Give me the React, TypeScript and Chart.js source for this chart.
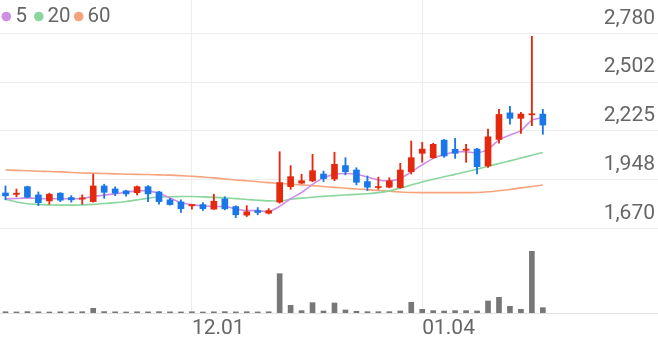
import React, { useEffect, useRef } from 'react';
import { Chart, registerables } from 'chart.js';

Chart.register(...registerables);

// ---- data ----
const dates = [
  '11.08', '11.09', '11.10', '11.13', '11.14', '11.15', '11.16', '11.17', '11.20', '11.21',
  '11.22', '11.23', '11.24', '11.27', '11.28', '11.29', '11.30', '12.01', '12.04', '12.05',
  '12.06', '12.07', '12.08', '12.11', '12.12', '12.13', '12.14', '12.15', '12.18', '12.19',
  '12.20', '12.21', '12.22', '12.26', '12.27', '12.28', '01.02', '01.03', '01.04', '01.05',
  '01.08', '01.09', '01.10', '01.11', '01.12', '01.15', '01.16', '01.17', '01.18', '01.19',
];
const emptySlots = ['', '', '', '', '', '', '', '', '', ''];

const openP = [
  1871, 1863, 1907, 1860, 1826, 1870, 1845, 1836, 1822, 1911,
  1894, 1883, 1873, 1907, 1877, 1832, 1820, 1798, 1805, 1779,
  1837, 1794, 1745, 1771, 1756, 1819, 1907, 1927, 1940, 1979,
  1951, 2027, 2002, 1936, 1902, 1904, 1902, 1992, 2097, 2072,
  2172, 2120, 2114, 2121, 2025, 2176, 2327, 2296, 2316, 2320,
];
const highP = [
  1911, 1894, 1910, 1877, 1870, 1873, 1856, 1860, 1979, 1921,
  1906, 1887, 1911, 1913, 1881, 1841, 1832, 1805, 1816, 1864,
  1850, 1798, 1799, 1788, 1782, 2106, 2027, 1978, 2091, 1996,
  2103, 2072, 2015, 1968, 1961, 1958, 2040, 2167, 2159, 2154,
  2176, 2182, 2148, 2125, 2235, 2347, 2365, 2330, 2763, 2347,
];
const lowP = [
  1832, 1849, 1843, 1799, 1807, 1822, 1819, 1807, 1819, 1841,
  1856, 1853, 1860, 1822, 1807, 1802, 1760, 1779, 1771, 1778,
  1775, 1731, 1737, 1747, 1752, 1813, 1892, 1925, 1936, 1936,
  1941, 1974, 1917, 1885, 1892, 1900, 1898, 1979, 2046, 2068,
  2074, 2068, 2046, 1979, 2017, 2154, 2263, 2210, 2254, 2205,
];
const closeP = [
  1855, 1870, 1847, 1816, 1864, 1830, 1832, 1843, 1911, 1875,
  1870, 1866, 1907, 1866, 1822, 1805, 1782, 1805, 1782, 1824,
  1781, 1747, 1764, 1760, 1771, 1930, 1964, 1941, 1998, 1953,
  2034, 1992, 1932, 1904, 1907, 1940, 2002, 2072, 2121, 2148,
  2082, 2097, 2121, 2021, 2191, 2318, 2296, 2320, 2322, 2258,
];
const volume = [
  38000, 32000, 41000, 35000, 30000, 36000, 33000, 39000, 140000, 42000,
  36000, 31000, 37000, 34000, 40000, 35000, 33000, 38000, 30000, 36000,
  41000, 34000, 39000, 32000, 37000, 1180000, 230000, 70000, 310000, 60000,
  300000, 90000, 50000, 40000, 40000, 40000, 60000, 320000, 110000, 70000,
  60000, 70000, 70000, 60000, 360000, 470000, 200000, 110000, 1850000, 160000,
];
const ma5 = [
  1838, 1840, 1843, 1840, 1838, 1838, 1838, 1840, 1851, 1859,
  1866, 1876, 1883, 1883, 1869, 1842, 1816, 1805, 1798, 1794,
  1794, 1781, 1771, 1771, 1764, 1795, 1838, 1874, 1920, 1957,
  1977, 1982, 1978, 1962, 1945, 1940, 1954, 1991, 2031, 2068,
  2090, 2104, 2106, 2099, 2119, 2173, 2201, 2226, 2286, 2300,
];
const ma20 = [
  1835, 1820, 1810, 1806, 1803, 1802, 1802, 1803, 1806, 1811,
  1816, 1823, 1832, 1842, 1848, 1850, 1851, 1851, 1849, 1846,
  1843, 1839, 1834, 1830, 1826, 1826, 1835, 1842, 1847, 1852,
  1856, 1860, 1863, 1867, 1873, 1883, 1899, 1916, 1934, 1949,
  1964, 1977, 1992, 2007, 2023, 2039, 2054, 2070, 2086, 2102,
];
const ma60 = [
  2002, 2000, 1998, 1995, 1993, 1991, 1988, 1985, 1983, 1982,
  1980, 1978, 1977, 1976, 1974, 1973, 1970, 1966, 1962, 1957,
  1951, 1945, 1941, 1935, 1930, 1926, 1922, 1917, 1913, 1908,
  1903, 1898, 1894, 1890, 1885, 1881, 1877, 1874, 1873, 1873,
  1873, 1873, 1873, 1874, 1878, 1884, 1891, 1900, 1908, 1917,
];
const priceTicks = [1670, 1947.5, 2225, 2502.5, 2780];
const priceTickLabels = ['1,670', '1,948', '2,225', '2,502', '2,780'];
const xTickLabels = ['12.01', '01.04'];
const maLabels = ['5', '20', '60'];

// ---- styles ----
const UP = '#e5290e';
const DOWN = '#1a77ea';
const MA_COLORS = ['#d08de6', '#8ad69d', '#f6a37c'];
const VOL = '#777777';
const GRID = '#ededed';
const TEXT = '#666666';
const FONT = 'Roboto, "Noto Sans", sans-serif';
const LEGEND_DOT_X = [6.3, 38.8, 78.7];
const LEGEND_TEXT_X = [15.5, 47.5, 87.5];

const labels = [...dates, ...emptySlots];
const candleColors = closeP.map((c, i) => (c >= openP[i] ? UP : DOWN));

const overlayPlugin = {
  id: 'overlay',
  afterDraw(chart: any) {
    const ctx = chart.ctx;
    const y = chart.scales.y;
    ctx.save();
    ctx.font = `21px ${FONT}`;
    ctx.fillStyle = TEXT;
    ctx.textAlign = 'right';
    ctx.textBaseline = 'middle';
    priceTicks.forEach((v, i) => {
      ctx.fillText(priceTickLabels[i], 655, y.getPixelForValue(v) - 15);
    });
    // legend
    ctx.font = `20.5px ${FONT}`;
    ctx.textAlign = 'left';
    maLabels.forEach((lab, i) => {
      ctx.beginPath();
      ctx.fillStyle = MA_COLORS[i];
      ctx.arc(LEGEND_DOT_X[i], 16.5, 4.8, 0, Math.PI * 2);
      ctx.fill();
      ctx.fillStyle = TEXT;
      ctx.fillText(lab, LEGEND_TEXT_X[i], 17);
    });
    ctx.restore();
  },
};

export default function App() {
  const ref = useRef<HTMLCanvasElement | null>(null);
  useEffect(() => {
    if (!ref.current) return;
    const maSets = [ma5, ma20, ma60].map((d, i) => ({
      type: 'line' as const,
      label: maLabels[i],
      data: d,
      borderColor: MA_COLORS[i],
      backgroundColor: MA_COLORS[i],
      borderWidth: 1.6,
      pointRadius: 0,
      tension: 0.25,
      yAxisID: 'y',
      order: 10 + i,
    }));
    const chart = new Chart(ref.current, {
      type: 'bar',
      data: {
        labels,
        datasets: [
          {
            type: 'bar',
            label: 'body',
            data: openP.map((o, i) => [o, closeP[i]]),
            backgroundColor: candleColors,
            barThickness: 6,
            minBarLength: 1,
            grouped: false,
            yAxisID: 'y',
            order: 1,
          },
          {
            type: 'bar',
            label: 'wick',
            data: lowP.map((l, i) => [l, highP[i]]),
            backgroundColor: candleColors,
            barThickness: 1.2,
            grouped: false,
            yAxisID: 'y',
            order: 2,
          },
          {
            type: 'bar',
            label: 'volume',
            data: volume,
            backgroundColor: VOL,
            barThickness: 5,
            grouped: false,
            yAxisID: 'yVol',
            order: 3,
          },
          ...maSets,
        ] as any,
      },
      options: {
        responsive: false,
        animation: false,
        events: [],
        layout: { padding: 0 },
        plugins: { legend: { display: false }, tooltip: { enabled: false } },
        scales: {
          x: {
            type: 'category',
            offset: true,
            grid: {
              offset: false,
              drawTicks: false,
              color: (c: any) => (xTickLabels.includes(labels[c.index]) ? GRID : 'rgba(0,0,0,0)'),
            },
            border: { display: true, color: '#e2e2e2' },
            ticks: {
              autoSkip: false,
              maxRotation: 0,
              minRotation: 0,
              align: 'start',
              padding: 3,
              color: TEXT,
              font: { size: 21, family: FONT },
              callback: (v: any) => (xTickLabels.includes(labels[v]) ? labels[v] : ''),
            },
            afterFit: (s: any) => {
              s.height = 29;
            },
          },
          y: {
            position: 'right',
            min: 1188,
            max: 2969.5,
            afterBuildTicks: (s: any) => {
              s.ticks = priceTicks.map((v) => ({ value: v }));
            },
            grid: { color: GRID, drawTicks: false },
            border: { display: false },
            ticks: { display: false },
            afterFit: (s: any) => {
              s.width = 0;
            },
          },
          yVol: {
            display: false,
            min: 0,
            max: 9390000,
          },
        },
      } as any,
      plugins: [overlayPlugin],
    });
    return () => chart.destroy();
  }, []);
  return (
    <div style={{ position: 'fixed', left: 0, top: 0, width: 658, height: 342, background: '#fff' }}>
      <canvas ref={ref} width={658} height={342} style={{ display: 'block', width: 658, height: 342 }} />
    </div>
  );
}
